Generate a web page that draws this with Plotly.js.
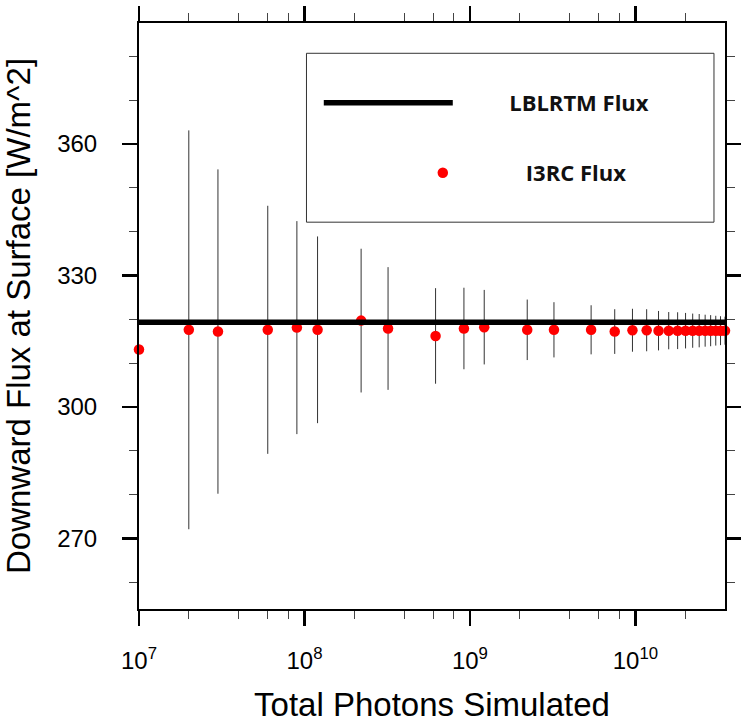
<!DOCTYPE html>
<html>
<head>
<meta charset="utf-8">
<script src="https://cdn.plot.ly/plotly-3.0.1.min.js"></script>
<style>html,body{margin:0;padding:0;background:#fff;}#chart{width:741px;height:728px;}</style>
</head>
<body>
<div id="chart"></div>
<script>
// Total photons simulated (x)
const photons = [1e7, 2e7, 3e7, 6e7, 9e7, 1.2e8, 2.2e8, 3.2e8, 6.2e8, 9.2e8, 1.22e9, 2.22e9, 3.22e9,
  5.4e9, 7.5e9, 9.6e9, 1.17e10, 1.38e10, 1.59e10, 1.8e10, 2.01e10, 2.22e10, 2.43e10, 2.64e10,
  2.85e10, 3.06e10, 3.27e10, 3.48e10];
// I3RC flux (W/m^2)
const i3rcFlux = [313.1, 317.6, 317.2, 317.6, 318.1, 317.6, 319.7, 317.9, 316.2, 317.9, 318.2, 317.6, 317.6,
  317.6, 317.2, 317.5, 317.5, 317.4, 317.4, 317.4, 317.4, 317.4, 317.4, 317.4,
  317.4, 317.4, 317.4, 317.4];
// I3RC flux uncertainty (+/-)
const i3rcErr = [0, 45.5, 37.0, 28.3, 24.3, 21.3, 16.4, 14.0, 10.9, 9.3, 8.5, 6.9, 6.3,
  5.6, 5.1, 4.9, 4.8, 4.5, 4.25, 4.2, 4.05, 3.9, 3.8, 3.65,
  3.55, 3.4, 3.3, 3.2];
// LBLRTM reference flux
const lblrtmFlux = 319.3;

// x tick labels (decades)
const xTickExponents = [7, 8, 9, 10];
const xTickVals = xTickExponents.map(e => Math.pow(10, e));
const xTickText = xTickExponents.map(e => '10<sup>' + e + '</sup>');

const seriesNames = ['LBLRTM Flux', 'I3RC Flux'];
const xTitle = 'Total Photons Simulated';
const yTitle = 'Downward Flux at Surface [W/m^2]';

const xFirst = photons[0], xLast = photons[photons.length - 1];

// minor ticks at 2,4,6,8 of each decade
const minorX = [];
for (const e of xTickExponents) for (const m of [2, 4, 6, 8]) {
  const v = m * Math.pow(10, e);
  if (v <= xLast) minorX.push(v);
}

const nb = '\u00a0';
const traces = [
  {
    x: photons, y: i3rcFlux, type: 'scatter', mode: 'markers',
    name: seriesNames[1], legend: 'legend2', cliponaxis: false,
    marker: {color: '#ff0000', size: 10.5},
    error_y: {type: 'data', array: i3rcErr, visible: true, color: '#333333', thickness: 1, width: 0}
  },
  {
    x: [xFirst, xLast], y: [lblrtmFlux, lblrtmFlux], type: 'scatter', mode: 'lines',
    name: nb.repeat(9) + seriesNames[0], legend: 'legend',
    line: {color: '#000000', width: 5.5}
  }
];

const axisCommon = {
  showline: true, linecolor: '#000', linewidth: 2, mirror: 'ticks',
  ticks: 'outside', ticklen: 15, tickwidth: 2.5, tickcolor: '#000',
  showgrid: false, zeroline: false,
  tickfont: {family: 'Liberation Sans, Arial, sans-serif', size: 24, color: '#000'}
};

const titleFont = {family: 'Liberation Sans, Arial, sans-serif', size: 33, color: '#000'};
const legendFont = {family: 'Open Sans, sans-serif', size: 22, weight: 700, color: '#111'};

const layout = {
  width: 741, height: 728,
  margin: {l: 139, r: 16, t: 23, b: 119},
  paper_bgcolor: '#fff', plot_bgcolor: '#fff',
  showlegend: true,
  xaxis: Object.assign({}, axisCommon, {
    type: 'log',
    range: [Math.log10(xFirst), Math.log10(xLast)],
    tickmode: 'array', tickvals: xTickVals, ticktext: xTickText,
    ticklabelstandoff: 14,
    minor: {tickmode: 'array', tickvals: minorX, ticks: 'outside', ticklen: 8, tickwidth: 1, tickcolor: '#444'},
    title: {text: xTitle, font: titleFont, standoff: 20}
  }),
  yaxis: Object.assign({}, axisCommon, {
    range: [253.9, 387.6],
    tick0: 0, dtick: 30,
    ticklabelstandoff: 20,
    minor: {dtick: 10, ticks: 'outside', ticklen: 8, tickwidth: 1, tickcolor: '#444'},
    title: {text: yTitle, font: titleFont, standoff: 22}
  }),
  legend: {
    x: 0.3068, xanchor: 'left', y: 0.8636, yanchor: 'middle',
    bgcolor: 'rgba(0,0,0,0)', borderwidth: 0, itemwidth: 129,
    font: legendFont
  },
  legend2: {
    x: 0.3768, xanchor: 'left', y: 0.7442, yanchor: 'middle',
    bgcolor: 'rgba(0,0,0,0)', borderwidth: 0, itemwidth: 156,
    font: legendFont
  },
  shapes: [{
    type: 'rect', xref: 'paper', yref: 'paper',
    x0: 0.2858, x1: 0.9812, y0: 0.6601, y1: 0.9483,
    line: {color: '#333', width: 1}, fillcolor: 'rgba(0,0,0,0)'
  }]
};

Plotly.newPlot('chart', traces, layout, {displayModeBar: false, staticPlot: true});
</script>
</body>
</html>
